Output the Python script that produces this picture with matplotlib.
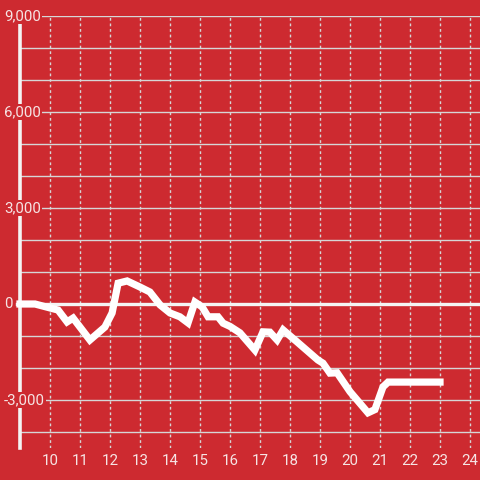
import matplotlib
matplotlib.use("Agg")
import matplotlib.pyplot as plt

hours = [9.0, 9.5, 10.27, 10.57, 10.77, 11.33, 11.83, 12.07, 12.27, 12.57, 13.0, 13.33,
         13.67, 14.0, 14.33, 14.6, 14.83, 15.07, 15.27, 15.6, 15.77, 16.0, 16.33, 16.83,
         17.1, 17.33, 17.57, 17.77, 18.23, 18.93, 19.1, 19.33, 19.57, 20.0, 20.6, 20.83,
         21.1, 21.27, 23.0]
values = [0, 0, -190, -560, -440, -1125, -720, -280, 650, 720, 530, 375,
          -30, -280, -400, -590, 60, -90, -400, -400, -600, -700, -900, -1440,
          -870, -880, -1125, -810, -1180, -1750, -1850, -2160, -2150, -2740, -3400, -3300,
          -2590, -2440, -2440]
x_ticks = list(range(10, 25))
y_ticks = [-3000, 0, 3000, 6000, 9000]
y_grid = list(range(-4000, 9001, 1000))

BG = '#cd2a30'
GRID = '#d6d6d6'
TXT = '#f6e4e4'
WHITE = '#f4f4f4'

plt.rcParams['font.family'] = ['Roboto', 'DejaVu Sans']

fig = plt.figure(figsize=(4.8, 4.8), dpi=100, facecolor=BG)
ax = fig.add_axes([20/480, 1 - 448/480, 460/480, (448 - 16)/480])
ax.set_facecolor(BG)
ax.set_xlim(9.0, 24.333)
ax.set_ylim(-4500, 9000)

for y in y_grid:
    ax.axhline(y, color=GRID, lw=1.0, zorder=1)
for x in x_ticks:
    ax.axvline(x, color=GRID, lw=1.0, ls=(0, (2, 2)), zorder=1)

ax.axhline(0, color=WHITE, lw=2.4, zorder=2, xmin=-0.007, clip_on=False)

for s in ['top', 'right', 'bottom']:
    ax.spines[s].set_visible(False)
ax.spines['left'].set_color(WHITE)
ax.spines['left'].set_linewidth(2.6)
ax.spines['left'].set_zorder(3)

ax.plot(hours, values, color='white', lw=5.2, solid_capstyle='projecting',
        solid_joinstyle='miter', zorder=8, clip_on=False)

ax.set_yticks([])
ax.set_xticks(x_ticks)
ax.set_xticklabels([str(t) for t in x_ticks])
ax.tick_params(axis='x', length=0, colors=TXT, labelsize=10.8, pad=4)

for y in y_ticks:
    ax.annotate(f"{y:,}", xy=(4/480, y), xycoords=('figure fraction', 'data'),
                ha='left', va='center', color=TXT, fontsize=10.8, zorder=6,
                annotation_clip=False,
                bbox=dict(facecolor=BG, edgecolor='none', pad=1.0))

fig.savefig('out.png', dpi=100, facecolor=BG)
